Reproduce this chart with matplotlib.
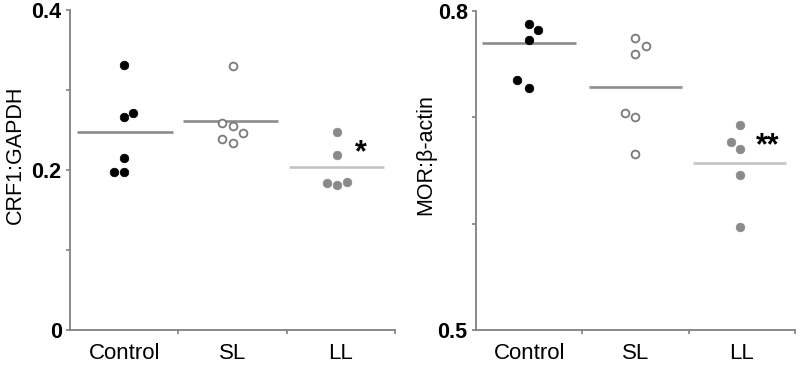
import matplotlib
matplotlib.use("Agg")
import matplotlib.pyplot as plt
import numpy as np

plt.rcParams['font.family'] = ['Liberation Sans', 'DejaVu Sans']

categories = ["Control", "SL", "LL"]

# Panel A: CRF1:GAPDH
crf_control = [0.331, 0.266, 0.271, 0.215, 0.1975, 0.1975]
crf_sl = [0.330, 0.259, 0.255, 0.246, 0.239, 0.234]
crf_ll = [0.2475, 0.219, 0.184, 0.181, 0.185]
crf_means = [0.2475, 0.261, 0.204]

# Panel B: MOR:beta-actin
mor_control = [0.7877, 0.7824, 0.7726, 0.735, 0.728]
mor_sl = [0.7745, 0.767, 0.760, 0.704, 0.700, 0.666]
mor_ll = [0.693, 0.677, 0.670, 0.646, 0.597]
mor_means = [0.770, 0.729, 0.657]

# horizontal jitter (category units) for visual separation
crf_jitter = [[0, 0, 0.085, 0, -0.09, 0],
              [0, -0.1, 0, 0.1, -0.1, 0],
              [-0.04, -0.04, -0.13, -0.04, 0.055]]
mor_jitter = [[0, 0.085, 0, -0.11, 0],
              [0, 0.1, 0, -0.1, 0, 0],
              [-0.02, -0.105, -0.02, -0.02, -0.02]]
crf_line_centers = [0.008, 0.98, 1.96]
mor_line_centers = [0.0, 1.0, 1.98]

GRAY = "#808080"
fig = plt.figure(figsize=(8, 3.67), dpi=100)
axA = fig.add_axes([0.0875, 0.1008, 0.40625, 0.872])
axB = fig.add_axes([0.595, 0.1008, 0.39875, 0.869])

styles = [dict(marker='o', ms=6.2, mfc='black', mec='black', mew=0.5, ls='none'),
          dict(marker='o', ms=5.6, mfc='white', mec='#7a7a7a', mew=1.3, ls='none'),
          dict(marker='o', ms=6.2, mfc='#8a8a8a', mec='#8a8a8a', mew=0.5, ls='none')]
line_colors = ['#8c8c8c', '#8c8c8c', '#c4c4c4']


def draw(ax, groups, jit, means, centers, ylim, major, minor, ylabel):
    for i, (vals, jj) in enumerate(zip(groups, jit)):
        xs = np.full(len(vals), float(i)) + np.array(jj)
        ax.plot(xs, vals, **styles[i], zorder=3)
        ax.hlines(means[i], centers[i] - 0.44, centers[i] + 0.44,
                  color=line_colors[i], lw=1.9, zorder=2)
    ax.set_xlim(-0.5, 2.5)
    ax.set_ylim(*ylim)
    for s in ['top', 'right']:
        ax.spines[s].set_visible(False)
    for s in ['left', 'bottom']:
        ax.spines[s].set_color(GRAY)
        ax.spines[s].set_linewidth(1.3)
    ax.set_xticks([0.5, 1.5, 2.5])
    ax.set_xticklabels([])
    ax.set_xticks([0, 1, 2], minor=True)
    ax.set_xticklabels(categories, minor=True, fontsize=16)
    ax.tick_params(axis='x', which='major', direction='out', length=3, width=1.2, color=GRAY)
    ax.tick_params(axis='x', which='minor', length=0, pad=9)
    ax.set_yticks(major)
    ax.set_yticklabels([("%g" % v) for v in major], fontsize=15.5, fontweight='bold')
    ax.set_yticks(minor, minor=True)
    ax.tick_params(axis='y', which='both', direction='out', length=3, width=1.2,
                   color=GRAY, pad=3)
    ax.set_ylabel(ylabel, fontsize=15.5)
    ax.patch.set_visible(False)


draw(axA, [crf_control, crf_sl, crf_ll], crf_jitter, crf_means, crf_line_centers,
     (0, 0.4), [0, 0.2, 0.4], [0.1, 0.3], "CRF1:GAPDH")
draw(axB, [mor_control, mor_sl, mor_ll], mor_jitter, mor_means, mor_line_centers,
     (0.5, 0.8), [0.5, 0.8], [0.6, 0.7], "MOR:\u03b2-actin")

axA.yaxis.set_label_coords(-0.135, 0.547)
axB.yaxis.set_label_coords(-0.125, 0.55)

axA.text(2.18, 0.2215, "*", fontsize=22, fontweight='bold', ha='center', va='center')
axB.text(2.24, 0.673, "**", fontsize=22, fontweight='bold', ha='center', va='center')

fig.savefig("out.png", dpi=100)
